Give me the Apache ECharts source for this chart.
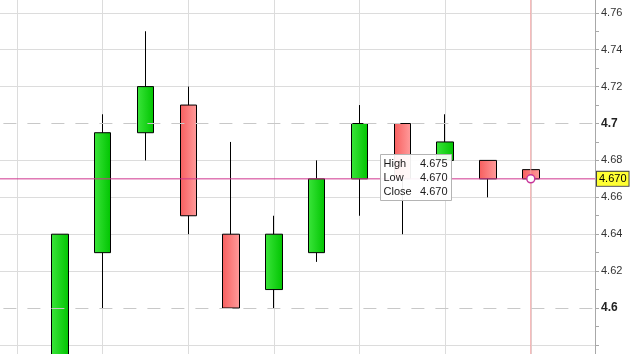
<!DOCTYPE html>
<html>
<head>
<meta charset="utf-8">
<script src="https://cdn.jsdelivr.net/npm/echarts@6/dist/echarts.min.js"></script>
<style>
  html, body { margin: 0; padding: 0; background: #fff; }
  #chart { width: 630px; height: 354px; }
</style>
</head>
<body>
<div id="chart"></div>
<script>
// candle positions (value x axis, 1 = first candle)
const bars = [1, 2, 3, 4, 5, 6, 7, 8, 9, 10, 11, 12];
const open  = [4.560, 4.630, 4.695, 4.710, 4.640, 4.610, 4.630, 4.670, 4.700, 4.680, 4.680, 4.675];
const close = [4.640, 4.695, 4.720, 4.650, 4.600, 4.640, 4.670, 4.700, 4.670, 4.690, 4.670, 4.670];
const low   = [4.550, 4.600, 4.680, 4.640, 4.600, 4.600, 4.625, 4.650, 4.640, 4.680, 4.660, 4.670];
const high  = [4.640, 4.705, 4.750, 4.720, 4.690, 4.650, 4.680, 4.710, 4.700, 4.705, 4.680, 4.675];
const dashedLevels = [4.6, 4.7];
const tipLabels = ['High', 'Low', 'Close'];

(function () {
    const FONT = 'Liberation Sans, Arial, sans-serif';
    const X_MIN = -2, X_MAX = 13.5, Y_MIN = 4.56, Y_MAX = 4.78;
    const last = bars.length - 1;
    const cursorX = bars[last];
    const cursorY = close[last];
    const tipValues = [high[last], low[last], close[last]];

    const candles = bars.map((x, i) => [x, open[i], close[i], low[i], high[i]]);

    const chart = echarts.init(document.getElementById('chart'));

    // static tooltip box (as in the screenshot)
    const tipChildren = [{
        type: 'rect', z: 100,
        shape: { x: 0, y: 0, width: 71, height: 46 },
        style: { fill: 'rgba(255,255,255,0.93)', stroke: '#b4b4b4', lineWidth: 1 }
    }];
    tipLabels.forEach((lbl, i) => {
        tipChildren.push({
            type: 'text', x: 3, y: 9.5 + i * 14, z: 101,
            style: { text: lbl, font: '11px ' + FONT, fill: '#1a1a1a', align: 'left', verticalAlign: 'middle' }
        });
        tipChildren.push({
            type: 'text', x: 67, y: 9.5 + i * 14, z: 101,
            style: { text: tipValues[i].toFixed(3), font: '11px ' + FONT, fill: '#1a1a1a', align: 'right', verticalAlign: 'middle' }
        });
    });

    chart.setOption({
        animation: false,
        backgroundColor: '#ffffff',
        grid: { left: -68.6, right: 35, top: -24.1, bottom: -27.8, outerBoundsMode: 'none', containLabel: false },
        xAxis: {
            type: 'value', min: X_MIN, max: X_MAX, interval: 2,
            axisLine: { show: false, onZero: false }, axisTick: { show: false }, axisLabel: { show: false },
            splitLine: { show: true, lineStyle: { color: '#dcdcdc', width: 1 } }
        },
        yAxis: {
            type: 'value', position: 'right', min: Y_MIN, max: Y_MAX, interval: 0.02,
            axisLine: { show: true, onZero: false, lineStyle: { color: '#a8a8a8' } },
            axisTick: { show: true, length: 4, lineStyle: { color: '#a8a8a8' } },
            minorTick: { show: true, splitNumber: 2, length: 4, lineStyle: { color: '#a8a8a8' } },
            axisLabel: {
                margin: 6, fontFamily: FONT, fontSize: 11, color: '#333',
                formatter: v => {
                    if (v < 4.59) return '';
                    return Math.abs(v * 10 - Math.round(v * 10)) < 1e-6
                        ? '{b|' + v.toFixed(1) + '}' : v.toFixed(2);
                },
                rich: { b: { fontFamily: FONT, fontSize: 12, fontWeight: 'bold', color: '#222' } }
            },
            splitLine: {
                show: true,
                lineStyle: { color: ['#dcdcdc', '#dcdcdc', 'rgba(0,0,0,0)', '#dcdcdc', '#dcdcdc'], width: 1 }
            }
        },
        series: [
            {
                type: 'candlestick',
                data: candles,
                barWidth: 17,
                itemStyle: {
                    color: new echarts.graphic.LinearGradient(0, 0, 1, 0, [
                        { offset: 0, color: '#3be53b' }, { offset: 1, color: '#00c400' }
                    ]),
                    color0: new echarts.graphic.LinearGradient(0, 0, 1, 0, [
                        { offset: 0, color: '#f75e5e' }, { offset: 1, color: '#ff9c9c' }
                    ]),
                    borderColor: '#000', borderColor0: '#000', borderWidth: 1
                },
                markLine: {
                    silent: true, symbol: 'none', animation: false,
                    label: { show: false },
                    lineStyle: { color: '#c8c8c8', type: [13, 11], width: 1 },
                    data: dashedLevels.map(v => ({ yAxis: v }))
                },
                z: 3
            },
            {
                // vertical cursor line
                type: 'line', data: [[cursorX, Y_MIN], [cursorX, Y_MAX]],
                symbol: 'none', silent: true,
                lineStyle: { color: '#f3a3a3', width: 1 },
                z: 4
            },
            {
                // horizontal cursor line with its value tag
                type: 'line', data: [[X_MIN, cursorY], [X_MAX, cursorY]],
                symbol: 'none', silent: true,
                lineStyle: { color: '#d0358f', width: 1 },
                endLabel: {
                    show: true, distance: 2,
                    formatter: () => cursorY.toFixed(3),
                    fontFamily: FONT, fontSize: 11, color: '#000',
                    backgroundColor: '#ffff33', borderColor: '#444', borderWidth: 1,
                    padding: [2, 2, 1, 2]
                },
                z: 5
            },
            {
                // cursor dot
                type: 'scatter',
                data: [[cursorX, cursorY]],
                symbol: 'circle', symbolSize: 8, silent: true,
                itemStyle: { color: '#fff', borderColor: '#c8359a', borderWidth: 1.5, opacity: 1 },
                z: 6
            }
        ],
        graphic: [{ type: 'group', x: 380.5, y: 154.5, z: 100, children: tipChildren }]
    });

    window.onresize = () => chart.resize();
})();
</script>
</body>
</html>
